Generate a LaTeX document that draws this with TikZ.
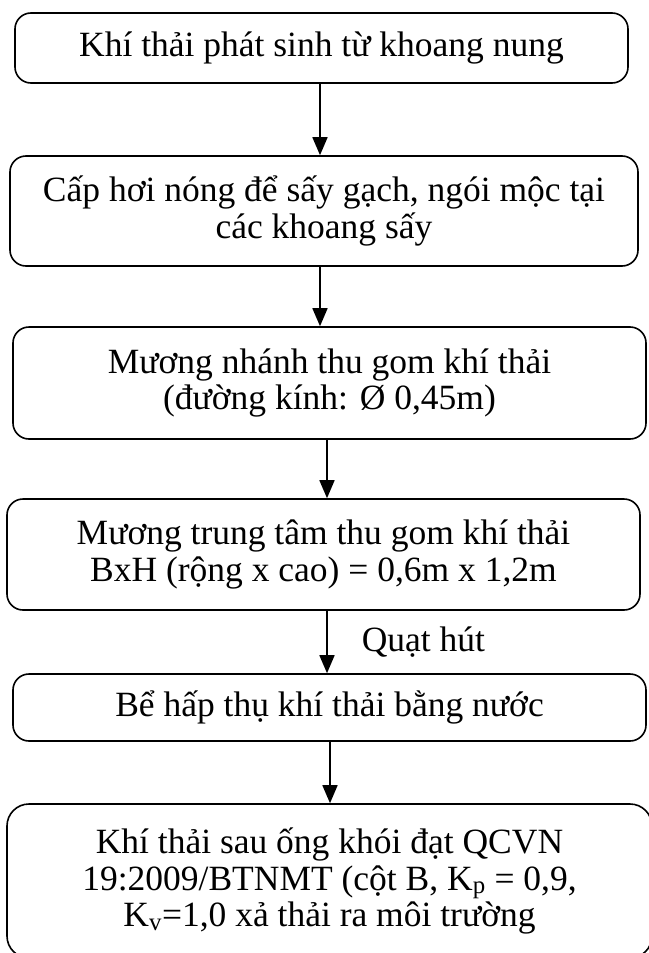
\documentclass[tikz,border=0pt]{standalone}
\usepackage{fontspec}
\setmainfont{Liberation Serif}
\usetikzlibrary{arrows.meta}
\tikzset{
  stage/.style={draw, line width=1.6pt, rounded corners=16pt, align=center,
    inner sep=0pt, font=\fontsize{35.5}{36.5}\selectfont},
  flow/.style={line width=1.6pt, -{Triangle[length=18pt,width=15pt]}},
  note/.style={inner sep=0pt, font=\fontsize{35.5}{36.5}\selectfont}
}
\begin{document}
\begin{tikzpicture}[x=1pt,y=-1pt]
	\useasboundingbox (0,0) rectangle (648,953);
	\node[stage, minimum width=613pt, minimum height=70pt] (b1) at (321.5,48)
		{Khí thải phát sinh từ khoang nung};%1
	\node[stage, minimum width=628pt, minimum height=110pt] (b2) at (324,211)
		{Cấp hơi nóng để sấy gạch, ngói mộc tại\\các khoang sấy};%2
	\node[stage, minimum width=633pt, minimum height=112pt] (b3) at (329.5,383)
		{Mương nhánh thu gom khí thải\\(đường kính: Ø 0,45m)};%3
	\node[stage, minimum width=633pt, minimum height=111pt] (b4) at (323.5,554.5)
		{Mương trung tâm thu gom khí thải\\BxH (rộng x cao) = 0,6m x 1,2m};%4
	\node[stage, minimum width=633pt, minimum height=67pt] (b5) at (329.5,707.5)
		{Bể hấp thụ khí thải bằng nước};%5
	\node[stage, rounded corners=22pt, minimum width=645pt, minimum height=154pt] (b6) at (329.5,881)
		{Khí thải sau ống khói đạt QCVN\\19:2009/BTNMT (cột B, K\textsubscript{p} = 0,9,\\K\textsubscript{v}=1,0 xả thải ra môi trường};%6
	\draw[flow] ([xshift=-1.5pt]b1.south) -- ([xshift=-1.5pt]b1.south |- b2.north);
	\draw[flow] ([xshift=-4pt]b2.south) -- ([xshift=-4pt]b2.south |- b3.north);
	\draw[flow] ([xshift=-2.5pt]b3.south) -- ([xshift=-2.5pt]b3.south |- b4.north);
	\draw[flow] ([xshift=3.5pt]b4.south) -- node[note, midway, right=34pt] (fan) {Quạt hút}
		([xshift=3.5pt]b4.south |- b5.north);
	\draw[flow] ([xshift=0.5pt]b5.south) -- ([xshift=0.5pt]b5.south |- b6.north);
\end{tikzpicture}
\end{document}
